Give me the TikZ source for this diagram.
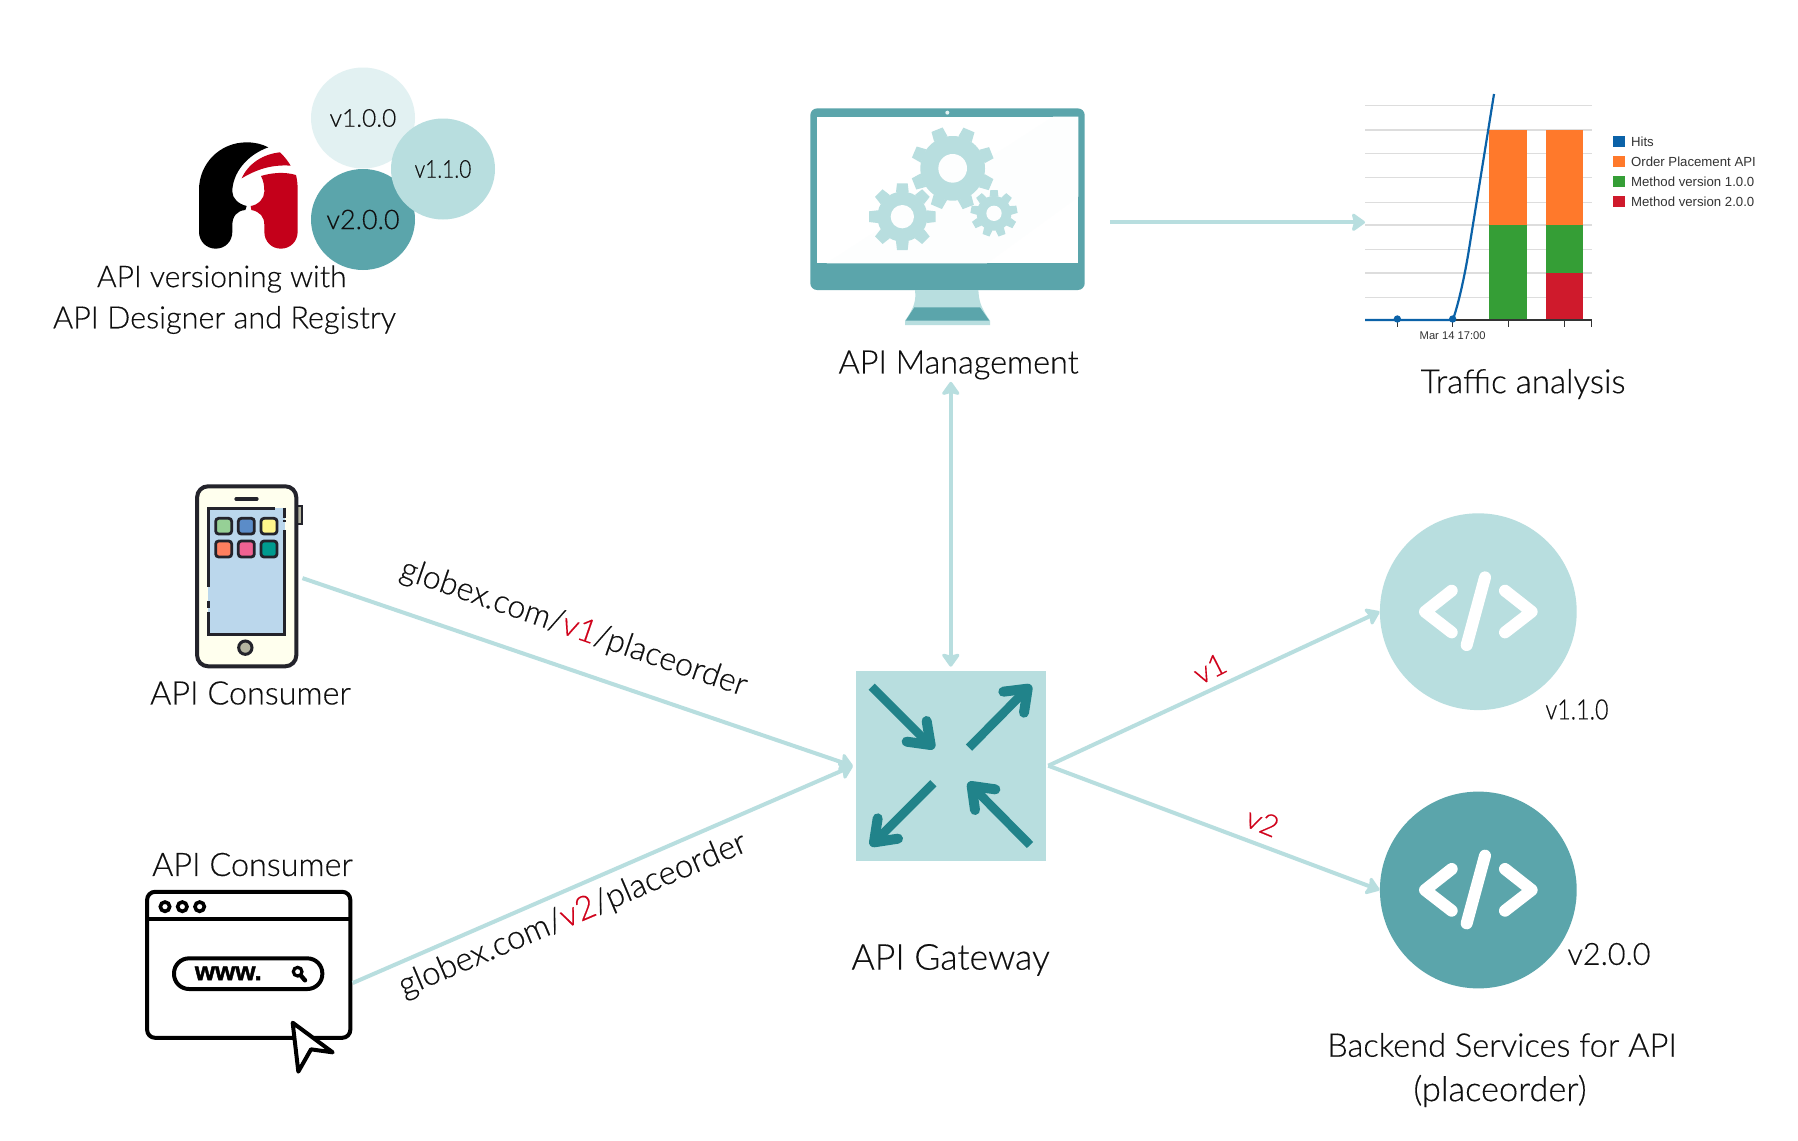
\documentclass[tikz,border=0pt]{standalone}
\usepackage{fontspec}
\setmainfont{Lato}[UprightFont=* Light,UprightFeatures={FakeBold=0.35}]
\newfontfamily\chartfont{Liberation Sans}
\newfontfamily\wwwfont{Liberation Sans}[UprightFont=* Bold,UprightFeatures={FakeBold=1.5}]
\usetikzlibrary{arrows.meta,shapes.geometric}
\definecolor{tealL}{HTML}{B8DEDF}
\definecolor{tealM}{HTML}{5BA5AB}
\definecolor{tealP}{HTML}{E2F1F2}
\definecolor{tealD}{HTML}{21838A}
\definecolor{logored}{HTML}{C4001A}
\definecolor{vred}{HTML}{D0021B}
\definecolor{ink}{HTML}{101010}
\definecolor{phonedark}{HTML}{23232B}
\definecolor{gridc}{HTML}{DDDDDD}
\definecolor{chblue}{HTML}{0B62A8}
\definecolor{chorange}{HTML}{FF792B}
\definecolor{chgreen}{HTML}{359E36}
\definecolor{chred}{HTML}{CF1A2C}
\definecolor{phonebtn}{HTML}{B4B4A0}
\definecolor{phonebody}{HTML}{FFFFEE}
\definecolor{scr}{HTML}{BBD7EC}
\definecolor{appa}{HTML}{96D096}
\definecolor{appb}{HTML}{5B8CC8}
\definecolor{appc}{HTML}{FFF68C}
\definecolor{appd}{HTML}{FF7F5F}
\definecolor{appe}{HTML}{F06292}
\definecolor{appf}{HTML}{009B8F}
\tikzset{
  fs/.style={font=\fontsize{#1}{#1}\selectfont},
  lbl/.style={fs=16.2,text=ink,inner sep=0pt},
  vlbl/.style={fs=15,text=vred,inner sep=0pt},
  vcircle/.style={ellipse,minimum width=52pt,minimum height=50.5pt,inner sep=0pt,fs=13.5,text=ink},
  svc/.style={circle,minimum size=98.4pt,inner sep=0pt},
  conn/.style={draw=tealL,line width=2pt,-{Stealth[length=7.5pt,width=10.5pt,inset=1.4pt,round]}},
  conn2/.style={draw=tealL,line width=2pt,{Stealth[length=7.5pt,width=10.5pt,inset=1.4pt,round]}-{Stealth[length=7.5pt,width=10.5pt,inset=1.4pt,round]}},
  gwarrow/.style={draw=tealD,line width=4.4pt},
  gwhead/.style={draw=tealD,line width=5pt,line cap=round,line join=round},
  codemark/.style={draw=white,line width=6pt,line cap=round,line join=round},
  phoneline/.style={draw=phonedark,line width=1.6pt},
  app/.style={draw=phonedark,line width=1.4pt,rounded corners=1.5pt},
  gridl/.style={draw=gridc,line width=0.6pt},
  leg/.style={font=\chartfont\fontsize{6.6}{8}\selectfont,text=black!80,anchor=west,inner sep=0pt},
}
\newcommand{\gearshape}[8]{% cx cy rbody rtip hole teeth halfwidth rot
  \begin{scope}[shift={(#1,#2)}]
    \fill[tealL] (0,0) circle[radius=#3];
    \foreach \i in {1,...,#6}{
      \fill[tealL,rotate=\i*360/#6+#8] (-#7,-#4) -- (#7,-#4) -- ({1.2*#7},{-#3+2}) -- ({-1.2*#7},{-#3+2}) -- cycle;
    }
    \fill[white!97!tealL] (0,0) circle[radius=#5];
  \end{scope}
}
\begin{document}
\begin{tikzpicture}[x=0.5pt,y=-0.5pt]
\useasboundingbox (0,0) rectangle (1798,1140);
\fill[white] (0,0) rectangle (1798,1140);

% version circles and logo
\node[vcircle,fill=tealP] (c100) at (363,118) {\raisebox{-0.6pt}{\fontsize{12.3}{14}\selectfont v1.0.0}};
\node[vcircle,fill=tealM] (c200) at (363,219.5) {\raisebox{-0.6pt}{v2.0.0}};
\node[vcircle,fill=tealL] (c110) at (443,169) {};
\node[fs=12.3,text=ink,inner sep=0pt,xscale=0.85] (c110t) at (443,169) {v1.1.0};
\begin{scope}[shift={(30,50)},scale=1/3]
  \fill[black] (715,292) .. controls (695,282) and (675,277) .. (650,277)
    .. controls (570,277) and (507,340) .. (507,420) -- (507,545)
    .. controls (507,575) and (530,596) .. (557,596)
    .. controls (585,596) and (607,575) .. (607,545) -- (607,525)
    .. controls (607,500) and (620,482) .. (646,480)
    .. controls (648,476) and (650,472) .. (650,468)
    .. controls (625,462) and (607,445) .. (607,425)
    .. controls (607,370) and (650,315) .. (715,292) -- cycle;
  \fill[logored] (635,385) .. controls (655,340) and (700,312) .. (750,307)
    .. controls (762,318) and (773,332) .. (782,347)
    .. controls (725,343) and (680,358) .. (635,385) -- cycle;
  \fill[logored] (693,378) .. controls (725,368) and (765,365) .. (798,375)
    .. controls (802,392) and (803,405) .. (803,420) -- (803,545)
    .. controls (803,575) and (780,596) .. (753,596)
    .. controls (725,596) and (703,575) .. (703,545) -- (703,525)
    .. controls (703,500) and (690,485) .. (664,480)
    .. controls (662,476) and (662,472) .. (662,468)
    .. controls (685,465) and (703,445) .. (703,425)
    .. controls (703,405) and (700,392) .. (693,378) -- cycle;
\end{scope}
\node[lbl,fs=15] (verlbla) at (221.7,279) {API versioning with};
\node[lbl,fs=15.3] (verlblb) at (224.5,320) {API Designer and Registry};

% monitor
\node[rectangle,rounded corners=3.4pt,fill=tealM,minimum width=137.2pt,minimum height=90.8pt,inner sep=0pt] (monitor) at (947.5,199.2) {};
\begin{scope}[shift={(780,90)},scale=1/3]
  \fill[white] (110,80) rectangle (895,520);
  \fill[white!97!tealL] (140,520) -- (820,80) -- (895,80) -- (895,320) -- (620,520) -- cycle;
  \fill[tealP] (502,68) circle[radius=6];
  \fill[tealL] (405,600) .. controls (408,630) and (405,650) .. (375,692) -- (375,705) -- (630,705) -- (630,692) .. controls (600,650) and (597,630) .. (595,600) -- cycle;
  \fill[tealM] (403,652) -- (600,652) -- (628,692) -- (377,692) -- cycle;
  \gearshape{518}{235}{97}{125}{43}{8}{18}{22}
  \gearshape{367}{380}{75}{100}{35}{8}{16}{0}
  \gearshape{642}{370}{52}{70}{23}{9}{11}{0}
\end{scope}
\node[lbl] (mgmtlbl) at (958.6,365) {API Management};

% chart
\begin{scope}[shift={(1340,80)},scale=1/3]
  \foreach \gy in {77,150,220,293,367,435,509,579,652}{
    \draw[gridl] (75,\gy) -- (755,\gy);
  }
  \fill[chorange] (448,150) rectangle (561,435);
  \fill[chgreen] (448,435) rectangle (561,720);
  \fill[chorange] (618,150) rectangle (730,435);
  \fill[chgreen] (618,435) rectangle (730,579);
  \fill[chred] (618,579) rectangle (730,720);
  \draw[black!80,line width=0.6pt] (75,720) -- (755,720);
  \foreach \tx in {172,338,505,674,755}{
    \draw[black!80,line width=0.5pt] (\tx,720) -- (\tx,742);
  }
  \draw[chblue,line width=1.1pt] (75,720) -- (338,720) .. controls (350,690) and (370,610) .. (385,520) -- (462,42);
  \fill[chblue] (172,717) circle[radius=11];
  \fill[chblue] (338,717) circle[radius=11];
  \node[font=\chartfont\fontsize{5.6}{7}\selectfont,text=black!80,inner sep=0pt] (chartx) at (338,766) {Mar 14 17:00};
  \fill[chblue] (820,167) rectangle (855,200);
  \fill[chorange] (820,227) rectangle (855,260);
  \fill[chgreen] (820,287) rectangle (855,320);
  \fill[chred] (820,347) rectangle (855,380);
  \node[leg] (lega) at (872,185) {Hits};
  \node[leg] (legb) at (872,245) {Order Placement API};
  \node[leg] (legc) at (872,305) {Method version 1.0.0};
  \node[leg] (legd) at (872,365) {Method version 2.0.0};
\end{scope}
\node[lbl,fs=16.6] (trafficlbl) at (1523,384) {Traffic analysis};

% phone
\begin{scope}[shift={(170,470)},scale=1/3]
  \filldraw[fill=phonebtn,draw=phonedark,line width=0.8pt] (378,108) rectangle (396,162);
\end{scope}
\node[rectangle,rounded corners=5.5pt,draw=phonedark,line width=2pt,fill=phonebody,minimum width=49.6pt,minimum height=90pt,inner sep=0pt] (phone) at (246.7,576.3) {};
\begin{scope}[shift={(170,470)},scale=1/3]
  \fill[scr] (115,115) rectangle (346,493);
  \draw[phoneline] (115,350) -- (115,115) -- (315,115);
  \draw[phoneline] (343,113) -- (343,143);
  \draw[phoneline] (343,150) -- (343,157);
  \draw[phoneline] (343,180) -- (343,493) -- (115,493) -- (115,425);
  \draw[phoneline] (115,393) -- (115,413);
  \draw[phoneline,line cap=round] (198,87) -- (261,87);
  \filldraw[fill=phonebtn,draw=phonedark,line width=1.5pt] (226,533) circle[radius=20];
  \filldraw[app,fill=appa] (137,145) rectangle (185,192);
  \filldraw[app,fill=appb] (205,145) rectangle (253,192);
  \filldraw[app,fill=appc] (273,145) rectangle (321,192);
  \filldraw[app,fill=appd] (137,213) rectangle (185,261);
  \filldraw[app,fill=appe] (205,213) rectangle (253,261);
  \filldraw[app,fill=appf] (273,213) rectangle (321,261);
\end{scope}
\node[lbl] (conslbla) at (250.5,693) {API Consumer};

% browser
\node[lbl] (conslblb) at (252.5,864.5) {API Consumer};
\node[rectangle,rounded corners=4pt,draw=black,line width=2pt,fill=white,minimum width=101.6pt,minimum height=73pt,inner sep=0pt] (browser) at (248.7,964.8) {};
\begin{scope}[shift={(130,870)},scale=1/3]
  \draw[black,line width=2pt] (50,147) -- (662,147);
  \foreach \bx in {105,157,209}{
    \draw[black,line width=1.8pt] (\bx,110) circle[radius=14];
  }
  \draw[black,line width=2pt,rounded corners=7.5pt] (132,265) rectangle (577,357);
  \node[font=\wwwfont\fontsize{13}{15}\selectfont,text=black,inner sep=0pt] (www) at (295,310) {www.};
  \draw[black,line width=1.6pt] (503,305) circle[radius=13];
  \draw[black,line width=2.2pt,line cap=round] (513,317) -- (525,331);
  \filldraw[fill=white,draw=black,line width=2pt,line join=round] (488,458) -- (608,547) -- (543,538) -- (505,605) -- cycle;
\end{scope}

% gateway
\node[rectangle,fill=tealL,minimum width=95.2pt,minimum height=95pt,inner sep=0pt] (gw) at (950.8,765.7) {};
\begin{scope}[shift={(840,650)},scale=1/3]
  \draw[gwarrow] (95,110) -- (268,283);
  \draw[gwhead] (260,213) -- (272,285) -- (200,275);
  \draw[gwarrow] (387,293) -- (558,120);
  \draw[gwhead] (490,125) -- (563,116) -- (552,188);
  \draw[gwarrow] (280,400) -- (107,573);
  \draw[gwhead] (113,505) -- (102,577) -- (174,566);
  \draw[gwarrow] (570,585) -- (399,412);
  \draw[gwhead] (405,480) -- (395,408) -- (466,418);
\end{scope}
\node[lbl,fs=17.8] (gwlbl) at (950.6,960) {API Gateway};

% services
\node[svc,fill=tealL] (svca) at (1478.3,611.7) {};
\node[svc,fill=tealM] (svcb) at (1478.3,890) {};
\foreach \cy in {611.7,890}{
  \begin{scope}[shift={(1340,\cy)},scale=1/3]
    \draw[codemark] (335,-63) -- (255,0) -- (335,62);
    \draw[codemark] (435,-103) -- (380,100);
    \draw[codemark] (495,-63) -- (575,0) -- (495,62);
  \end{scope}
}
\node[lbl,fs=14,xscale=0.83] (svcalbl) at (1577,709.5) {v1.1.0};
\node[lbl,fs=15.3] (svcblbl) at (1609,954) {v2.0.0};
\node[lbl,fs=16.3] (backa) at (1502,1045) {Backend Services for API};
\node[lbl,fs=17.2] (backb) at (1500,1091) {(placeorder)};

% connectors
\coordinate (monout) at (1110,222.3);
\coordinate (chartin) at (1365,222.3);
\coordinate (browserout) at (352.7,983);
\coordinate (gwin) at (852.7,766);
\coordinate (gwout) at (1048.3,765.7);
\draw[conn] (monout) -- (chartin);
\draw[conn2,shorten >=1.8pt] (gw.north |- mgmtlbl.south) ++(0,2) -- (gw.north);
\draw[conn,shorten <=2.2pt] (phone.east |- 0,576.7) -- (gwin);
\draw[conn] (browserout) -- (gwin);
\draw[conn] (gwout) -- (svca.west);
\draw[conn] (gwout) -- (svcb.west);

% connector labels
\node[lbl,rotate=-19,xscale=0.99] (urla) at (573.5,628.5) {globex.com/{\color{vred}v1}/placeorder};
\node[lbl,fs=16.5,rotate=23] (urlb) at (573,915.5) {globex.com/{\color{vred}v2}/placeorder};
\node[vlbl,rotate=27] (va) at (1209.8,668.5) {v1};
\node[vlbl,rotate=-22] (vb) at (1262.5,822) {v2};
\end{tikzpicture}
\end{document}
